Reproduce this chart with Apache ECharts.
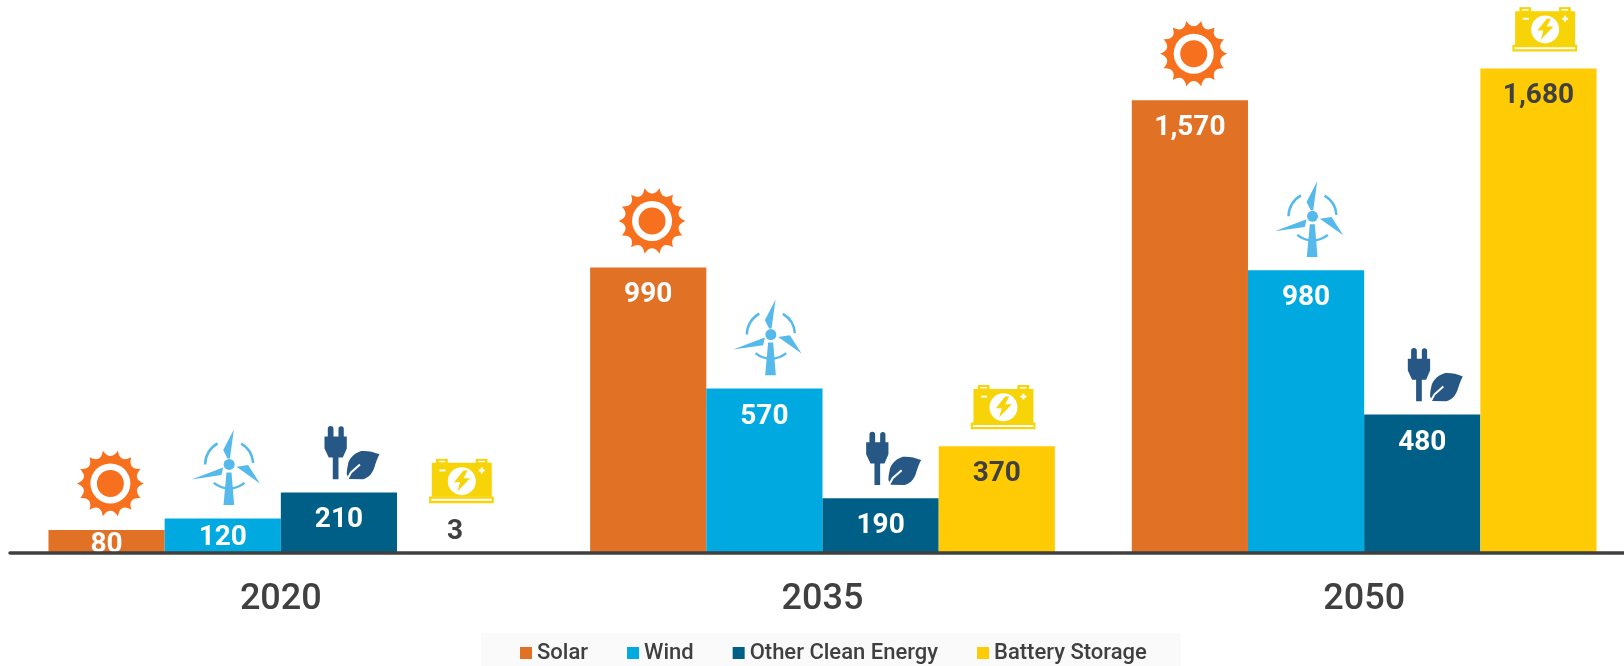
<!DOCTYPE html>
<html><head><meta charset="utf-8">
<style>html,body{margin:0;padding:0;background:#fff;overflow:hidden}#c{width:1624px;height:666px}</style>
<script src="https://cdn.jsdelivr.net/npm/echarts@6/dist/echarts.min.js"></script></head>
<body><div id="c"></div>
<script>
const categories = ['2020', '2035', '2050'];
const solar = [80, 990, 1570];
const wind = [120, 570, 980];
const otherClean = [210, 190, 480];
const battery = [3, 370, 1680];
const seriesNames = ['Solar', 'Wind', 'Other Clean Energy', 'Battery Storage'];
const barColors = ['#E17125', '#00A9E0', '#005F87', '#FFCB05'];
const labelColors = ['#fff', '#fff', '#fff', '#404040'];
const allValues = [solar, wind, otherClean, battery];
const FONT = 'Roboto, "Liberation Sans", Arial, sans-serif';
const BAR_W = 116.3;

const ICON = {sun: '#F7701D', wind: '#55B9EC', plug: '#275885', bat: '#F7D408'};

function sunIcon() {
  const n = 14, outer = 33.5, ctrl = 22;
  let d = '';
  for (let i = 0; i < n; i++) {
    const a0 = (i + 0.5) / n * 2 * Math.PI - Math.PI / 2;
    const a1 = (i + 1) / n * 2 * Math.PI - Math.PI / 2;
    const a2 = (i + 1.5) / n * 2 * Math.PI - Math.PI / 2;
    d += (i === 0 ? 'M' : 'L') + (outer * Math.cos(a0)).toFixed(1) + ' ' + (outer * Math.sin(a0)).toFixed(1);
    d += 'Q' + (ctrl * Math.cos(a1)).toFixed(1) + ' ' + (ctrl * Math.sin(a1)).toFixed(1) + ' ' +
      (outer * Math.cos(a2)).toFixed(1) + ' ' + (outer * Math.sin(a2)).toFixed(1);
  }
  d += 'Z';
  return [
    {type:'path',shape:{pathData:d,x:-33.5,y:-33.5,width:67,height:67,layout:'center'},style:{fill:ICON.sun}},
    {type:'circle',shape:{cx:0,cy:0,r:20},style:{fill:'#fff'}},
    {type:'circle',shape:{cx:0,cy:0,r:13.5},style:{fill:ICON.sun}}
  ];
}
function windIcon() {
  const c = ICON.wind;
  const arc = (s,e)=>({type:'arc',shape:{cx:0,cy:0,r:24,startAngle:s,endAngle:e,clockwise:true},style:{stroke:c,fill:null,lineWidth:2.5}});
  return [
    {type:'circle',shape:{cx:0,cy:0,r:5.5},style:{fill:c}},
    {type:'polygon',shape:{points:[[4.7,-35],[-6,-14.3],[-1.7,-6],[0.7,-6]]},style:{fill:c}},
    {type:'polygon',shape:{points:[[7.3,2.3],[19,0.7],[30.7,19]]},style:{fill:c}},
    {type:'polygon',shape:{points:[[-6,3],[-7.7,10.7],[-37.7,15]]},style:{fill:c}},
    {type:'polygon',shape:{points:[[-2.7,8],[2.3,8],[5,40.7],[-5.7,40.7]]},style:{fill:c}},
    arc(Math.PI*1.0,Math.PI*1.34),
    arc(Math.PI*1.667,Math.PI*1.98),
    arc(Math.PI*0.28,Math.PI*0.72)
  ];
}
function plugIcon() {
  const c = ICON.plug;
  return [
    {type:'path',shape:{pathData:'M-9.2 -55.8 V-63.6 A2.85 2.85 0 0 1 -3.5 -63.6 V-55.8 H1.5 V-63.6 A2.65 2.65 0 0 1 6.8 -63.6 V-55.8 H9.8 V-44 L5.8 -34.8 H1.5 V-13.2 H-4.2 V-34.8 H-8.2 L-12.5 -44 V-55.8 Z',x:-12.5,y:-66.5,width:22.3,height:53.3,layout:'cover'},style:{fill:c}},
    {type:'path',shape:{pathData:'M42.5 -38.2 C36 -41 30 -42 24.1 -41.5 C16 -39 11 -32 11 -27.5 C10 -24 9.8 -21 9.8 -18.2 L12 -13.5 L25.8 -13.2 C33 -15 35.8 -20.8 37 -24 C39 -30 40.5 -35 42.5 -38.2 Z',x:9.8,y:-41.5,width:32.7,height:28.3,layout:'cover'},style:{fill:c}},
    {type:'polyline',shape:{points:[[10.5,-13.5],[14,-20],[23,-28]]},style:{stroke:'#fff',fill:null,lineWidth:2}}
  ];
}
function batteryIcon() {
  const c = ICON.bat, w = '#fff';
  return [
    {type:'rect',shape:{x:-25.7,y:-22.3,width:11.7,height:5},style:{fill:c}},
    {type:'rect',shape:{x:14,y:-22.3,width:11.7,height:5},style:{fill:c}},
    {type:'rect',shape:{x:-23,y:-20.3,width:6.5,height:1.5},style:{fill:w}},
    {type:'rect',shape:{x:16.5,y:-20.3,width:6.5,height:1.5},style:{fill:w}},
    {type:'rect',shape:{x:-30,y:-18.3,width:60,height:34},style:{fill:c}},
    {type:'rect',shape:{x:-32.7,y:15.3,width:64.7,height:6.7},style:{fill:c}},
    {type:'rect',shape:{x:-30.5,y:17.7,width:60.5,height:2},style:{fill:w}},
    {type:'circle',shape:{cx:0,cy:0,r:14},style:{fill:w}},
    {type:'polygon',shape:{points:[[1.7,-10.7],[-7.7,1],[-1.7,1],[-4.3,10.3],[8.3,-3],[1.7,-3],[5.7,-10.7]]},style:{fill:c}},
    {type:'rect',shape:{x:-22.3,y:-11.7,width:6,height:2},style:{fill:w}},
    {type:'rect',shape:{x:17,y:-11.7,width:6,height:2},style:{fill:w}},
    {type:'rect',shape:{x:19,y:-13.7,width:2,height:6},style:{fill:w}}
  ];
}
const iconSpecs = [
  {make: sunIcon, dx: 4, dy: 46.5},
  {make: windIcon, dx: 6.5, dy: 54},
  {make: plugIcon, dx: -2, dy: 0},
  {make: batteryIcon, dx: 6.5, dy: 39}
];
const LOW_VALUE_LIFT = 32;

const iconData = [];
allValues.forEach((vals, s) => vals.forEach((v, c) => iconData.push([c, v, s])));

function fmt(v) { return v.toLocaleString('en-US'); }
function labelFor(v) {
  if (v < 50) return {position: 'top', distance: 6, color: '#404040'};
  if (v < 100) return {position: 'insideTop', distance: 1};
  if (v < 150) return {position: 'insideTop', distance: 6};
  return {position: 'insideTop', distance: 14};
}

const option = {
  animation: false,
  backgroundColor: '#fff',
  grid: {left: 10, width: 1625, top: 5, height: 548, containLabel: false, outerBoundsMode: 'none'},
  legend: {
    data: seriesNames, left: 481, top: 633, icon: 'rect', itemWidth: 12, itemHeight: 12, itemGap: 39,
    padding: [9, 34, 9, 39], backgroundColor: '#FAFAFA',
    textStyle: {fontFamily: FONT, fontSize: 22, fontWeight: 500, color: '#404040'}
  },
  xAxis: {
    type: 'category', data: categories, z: 10, offset: 1,
    axisLine: {lineStyle: {color: '#404040', width: 3.5}},
    axisTick: {show: false},
    axisLabel: {fontFamily: FONT, fontSize: 36, fontWeight: 500, color: '#404040', margin: 28}
  },
  yAxis: {type: 'value', min: 0, max: 1900, show: false, splitLine: {show: false}},
  series: seriesNames.map((n, s) => ({
    name: n, type: 'bar', barGap: 0, barCategoryGap: '14.2%',
    itemStyle: {color: barColors[s]},
    label: {show: true, fontFamily: FONT, fontSize: 28, fontWeight: 'bold', color: labelColors[s], formatter: p => fmt(p.value)},
    data: allValues[s].map(v => ({value: v, label: labelFor(v)}))
  })).concat([{
    name: 'icons', type: 'custom', data: iconData, clip: false, z: 5,
    encode: {x: 0, y: 1},
    renderItem: (params, api) => {
      const c = api.value(0), v = api.value(1), s = api.value(2);
      const spec = iconSpecs[s];
      const p = api.coord([c, v]);
      const lift = v < 50 ? spec.dy + LOW_VALUE_LIFT : spec.dy;
      return {type: 'group', x: p[0] + (s - 1.5) * BAR_W + spec.dx, y: p[1] - lift, children: spec.make()};
    }
  }])
};
echarts.init(document.getElementById('c'), null, {renderer: 'canvas'}).setOption(option);
</script></body></html>
